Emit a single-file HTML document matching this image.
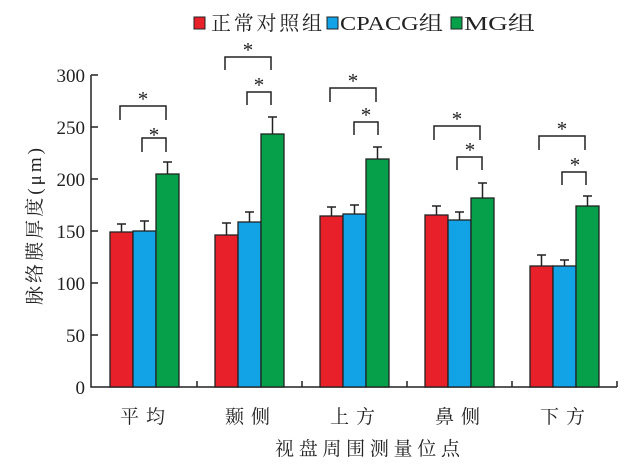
<!DOCTYPE html>
<html><head><meta charset="utf-8"><style>
html,body{margin:0;padding:0;background:#fff;}
svg text{font-family:"Liberation Serif","Noto Serif CJK SC",serif;fill:#222;}
</style></head><body>
<svg width="630" height="464" viewBox="0 0 630 464" xmlns="http://www.w3.org/2000/svg">
<rect x="194" y="17" width="11" height="12" fill="#e8202a" stroke="#222" stroke-width="1"/>
<text x="211" y="30" font-size="20" textLength="111" lengthAdjust="spacing">正常对照组</text>
<rect x="327" y="17" width="11" height="12" fill="#12a3e6" stroke="#222" stroke-width="1"/>
<text x="340" y="30" font-size="20" textLength="103" lengthAdjust="spacingAndGlyphs">CPACG组</text>
<rect x="451" y="17" width="11" height="12" fill="#06a04a" stroke="#222" stroke-width="1"/>
<text x="464" y="30" font-size="20" textLength="71" lengthAdjust="spacingAndGlyphs">MG组</text>

<g stroke="#222" stroke-width="1.5" fill="none">
<path d="M91 75 V387 H617"/>
<path d="M91 75 H98 M91 127 H98 M91 179 H98 M91 231 H98 M91 283 H98 M91 335 H98"/>
<path d="M197 387 V381 M302 387 V381 M407 387 V381 M512 387 V381 M617 387 V381"/>
</g>
<g font-size="19" text-anchor="end">
<text x="85" y="82">300</text><text x="85" y="134">250</text><text x="85" y="186">200</text>
<text x="85" y="238">150</text><text x="85" y="290">100</text><text x="85" y="342">50</text><text x="85" y="394">0</text>
</g>
<text transform="translate(41,305) rotate(-90)" font-size="19" textLength="157" lengthAdjust="spacing">脉络膜厚度(μm)</text>
<g font-size="19">
<text x="120" y="423" textLength="45" lengthAdjust="spacing">平均</text>
<text x="225" y="423" textLength="45" lengthAdjust="spacing">颞侧</text>
<text x="330" y="423" textLength="45" lengthAdjust="spacing">上方</text>
<text x="435" y="423" textLength="45" lengthAdjust="spacing">鼻侧</text>
<text x="540" y="423" textLength="45" lengthAdjust="spacing">下方</text>
</g>
<text x="275" y="455" font-size="19" textLength="185" lengthAdjust="spacing">视盘周围测量位点</text>

<g stroke="#222" stroke-width="1.3">
<rect x="110" y="232" width="23" height="155" fill="#e8202a"/>
<rect x="133" y="231" width="23" height="156" fill="#12a3e6"/>
<rect x="156" y="174" width="23" height="213" fill="#06a04a"/>
<rect x="215" y="235" width="23" height="152" fill="#e8202a"/>
<rect x="238" y="222" width="23" height="165" fill="#12a3e6"/>
<rect x="261" y="134" width="23" height="253" fill="#06a04a"/>
<rect x="320" y="216" width="23" height="171" fill="#e8202a"/>
<rect x="343" y="214" width="23" height="173" fill="#12a3e6"/>
<rect x="366" y="159" width="23" height="228" fill="#06a04a"/>
<rect x="425" y="215" width="23" height="172" fill="#e8202a"/>
<rect x="448" y="220" width="23" height="167" fill="#12a3e6"/>
<rect x="471" y="198" width="23" height="189" fill="#06a04a"/>
<rect x="530" y="266" width="23" height="121" fill="#e8202a"/>
<rect x="553" y="266" width="23" height="121" fill="#12a3e6"/>
<rect x="576" y="206" width="23" height="181" fill="#06a04a"/>
</g>
<g stroke="#222" stroke-width="1.5" fill="none">
<path d="M121.5 232 V224 M117 224 H126"/>
<path d="M144.5 231 V221 M140 221 H149"/>
<path d="M167.5 174 V162 M163 162 H172"/>
<path d="M226.5 235 V223 M222 223 H231"/>
<path d="M249.5 222 V212 M245 212 H254"/>
<path d="M272.5 134 V117 M268 117 H277"/>
<path d="M331.5 216 V207 M327 207 H336"/>
<path d="M354.5 214 V205 M350 205 H359"/>
<path d="M377.5 159 V147 M373 147 H382"/>
<path d="M436.5 215 V206 M432 206 H441"/>
<path d="M459.5 220 V212 M455 212 H464"/>
<path d="M482.5 198 V183 M478 183 H487"/>
<path d="M541.5 266 V255 M537 255 H546"/>
<path d="M564.5 266 V260 M560 260 H569"/>
<path d="M587.5 206 V196 M583 196 H592"/>
<path d="M120 120 V106 H166 V120"/>
<path d="M142 152 V138 H166 V152"/>
<path d="M225 70 V57 H271 V70"/>
<path d="M247 105 V92 H271 V105"/>
<path d="M330 102 V88 H376 V102"/>
<path d="M354 135 V122 H378 V135"/>
<path d="M434 140 V126 H480 V140"/>
<path d="M457 170 V157 H482 V170"/>
<path d="M539 150 V136 H585 V150"/>
<path d="M562 185 V172 H586 V185"/>
</g>
<g font-size="21" text-anchor="middle">
<text x="143" y="106">*</text><text x="154" y="142">*</text>
<text x="248" y="57">*</text><text x="259" y="92">*</text>
<text x="353" y="88">*</text><text x="366" y="122">*</text>
<text x="457" y="126">*</text><text x="470" y="157">*</text>
<text x="562" y="136">*</text><text x="575" y="172">*</text>
</g>
</svg>
</body></html>
